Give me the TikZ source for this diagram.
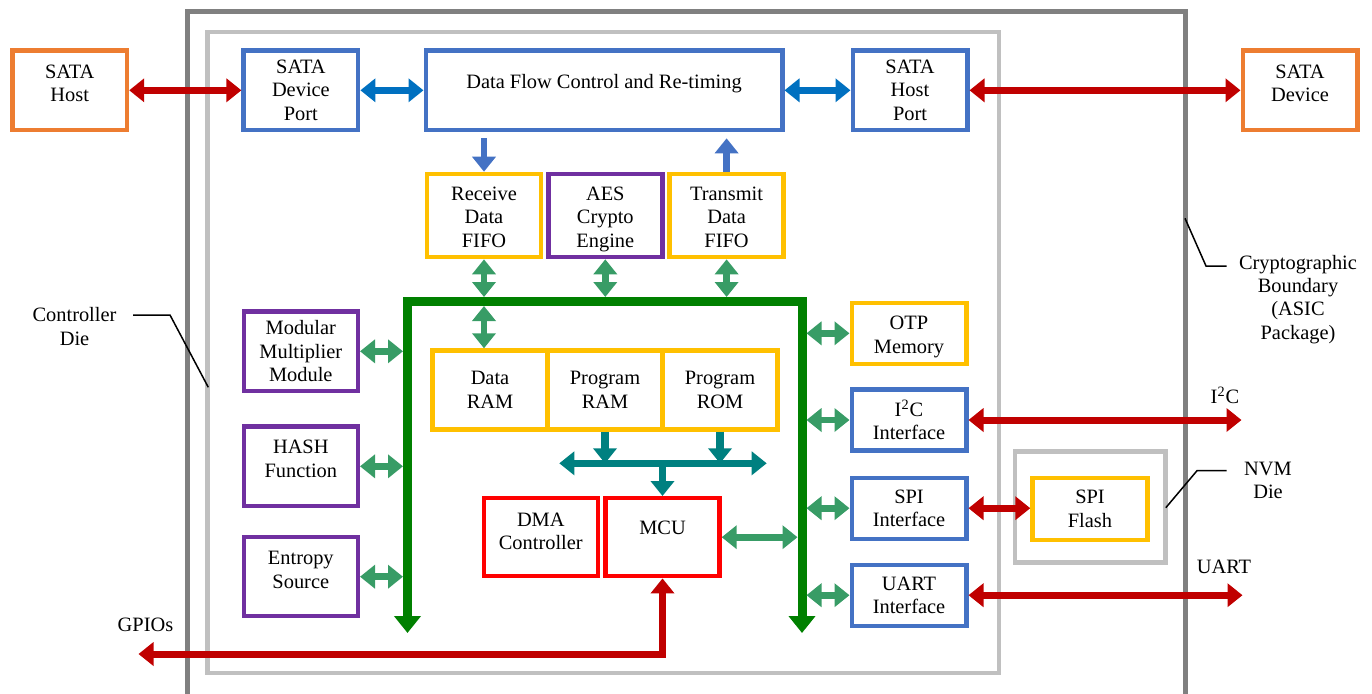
\documentclass[tikz,border=0pt]{standalone}
\usepackage{fontspec}
\setmainfont{Liberation Serif}
\usetikzlibrary{arrows.meta,positioning}

\definecolor{sorange}{HTML}{ED7D31}
\definecolor{sblue}{HTML}{4472C4}
\definecolor{syellow}{HTML}{FFC000}
\definecolor{spurple}{HTML}{7030A0}
\definecolor{sred}{HTML}{FF0000}
\definecolor{linkred}{HTML}{C00000}
\definecolor{linkblue}{HTML}{0070C0}
\definecolor{busgreen}{HTML}{008000}
\definecolor{tapgreen}{HTML}{389C66}
\definecolor{memteal}{HTML}{008080}
\definecolor{pkggray}{HTML}{808080}
\definecolor{diegray}{HTML}{C0C0C0}

% text set a bit above (or below) the middle of its box
\newcommand{\liftbox}[2]{\raisebox{0pt}[\height][\dimexpr\depth+#1\relax]{\begin{tabular}{@{}c@{}}#2\end{tabular}}}

\tikzset{
  every node/.style={font=\fontsize{10.2}{11.7}\selectfont},
  blk/.style={draw, line width=2.2pt, fill=white, align=center, inner sep=1pt,
    minimum width=57.3pt, minimum height=39.8pt},
  link/.style={draw=linkred, line width=3.5pt, <->},
  bflow/.style={draw=linkblue, line width=3.2pt, <->},
  bdown/.style={draw=sblue, line width=3.4pt, ->},
  tap/.style={draw=tapgreen, line width=3.3pt, <->},
  mflow/.style={draw=memteal, line width=3.6pt},
  bus/.style={draw=busgreen, line width=4.5pt,
    {Triangle[length=8.5pt,width=13pt]}-{Triangle[length=8.5pt,width=13pt]}},
  lead/.style={draw=black, line width=0.75pt},
}

\begin{document}
\begin{tikzpicture}[x=0.5pt, y=-0.5pt, >={Triangle[length=7.5pt,width=11.5pt]}]
  \useasboundingbox (0,0) rectangle (1372,693);

  % package and die outlines
  \draw[pkggray, line width=2.3pt] (187.5,695) -- (187.5,11.7) -- (1185.5,11.7) -- (1185.5,695);
  \draw[diegray, line width=2.3pt] (207.5,32) rectangle (999,673);

  % top row
  \node[blk, draw=sorange] (shost) at (69.7,90.3) {\liftbox{5pt}{SATA\\Host}};
  \node[blk, draw=sblue] (sdp) at (300.9,90.3) {SATA\\Device\\Port};
  \node[blk, draw=sblue, minimum width=178.3pt] (dfc) at (604,90.3) {\liftbox{6.6pt}{Data Flow Control and Re-timing}};
  \node[blk, draw=sblue] (shp) at (910,90.3) {SATA\\Host\\Port};
  \node[blk, draw=sorange] (sdev) at (1300,90.3) {\liftbox{5pt}{SATA\\Device}};

  % fifo row
  \node[blk, draw=syellow, minimum width=57pt, minimum height=41.6pt] (rxf) at (484,215.5) {\liftbox{-3.5pt}{Receive\\Data\\FIFO}};
  \node[blk, draw=spurple, minimum width=57pt, minimum height=41.6pt] (aes) at (605.3,215.5) {\liftbox{-3.5pt}{AES\\Crypto\\Engine}};
  \node[blk, draw=syellow, minimum width=57pt, minimum height=41.6pt] (txf) at (726.6,215.5) {\liftbox{-3.5pt}{Transmit\\Data\\FIFO}};

  % memories
  \node[blk, draw=syellow, minimum width=57.5pt, minimum height=39.5pt] (dram) at (490,390) {Data\\RAM};
  \node[blk, draw=syellow, minimum width=57.5pt, minimum height=39.5pt] (pram) at (605,390) {Program\\RAM};
  \node[blk, draw=syellow, minimum width=57.5pt, minimum height=39.5pt] (prom) at (720,390) {Program\\ROM};

  % crypto blocks
  \node[blk, draw=spurple, minimum width=57pt] (mmm) at (300.8,351.3) {Modular\\Multiplier\\Module};
  \node[blk, draw=spurple, minimum width=57pt] (hash) at (300.8,466.3) {\liftbox{5.5pt}{HASH\\Function}};
  \node[blk, draw=spurple, minimum width=57pt, minimum height=39.5pt] (ent) at (300.8,576.7) {\liftbox{4.7pt}{Entropy\\Source}};

  % processor
  \node[blk, draw=sred, minimum width=57pt, minimum height=39pt] (dma) at (540.8,537.2) {\liftbox{3.9pt}{DMA\\Controller}};
  \node[blk, draw=sred, minimum width=57pt, minimum height=39pt] (mcu) at (662.5,537.2) {\liftbox{6.9pt}{MCU}};

  % peripherals
  \node[blk, draw=syellow, minimum height=30.5pt] (otp) at (909,333.3) {\liftbox{-3.4pt}{OTP\\Memory}};
  \node[blk, draw=sblue, minimum height=30.5pt] (i2c) at (909,420) {I\textsuperscript{2}C\\Interface};
  \node[blk, draw=sblue, minimum height=30.5pt] (spi) at (909,508.2) {SPI\\Interface};
  \node[blk, draw=sblue, minimum height=30.5pt] (uart) at (909,595.2) {UART\\Interface};

  % nvm die
  \node[draw=diegray, line width=2.2pt, minimum width=75.2pt, minimum height=55.6pt] (nvm) at (1090.3,507) {};
  \node[blk, draw=syellow, minimum width=57.5pt, minimum height=31pt] (flash) at (1090,509) {SPI\\Flash};

  % bus
  \coordinate (bl) at (407.5,633);
  \coordinate (tl) at (407.5,301.5);
  \coordinate (tr) at (802,301.5);
  \coordinate (br) at (802,633);
  \coordinate (lw) at (403,0);
  \coordinate (ri) at (797.5,0);
  \coordinate (ro) at (806.5,0);
  \coordinate (tt) at (0,297);
  \coordinate (tb) at (0,306);
  \draw[bus] (bl) -- (tl) -- (tr) -- (br);

  \foreach \n in {rxf,aes,txf}
    \draw[tap] (\n.south) -- (\n.south |- tt);
  \draw[tap] (rxf.south |- tb) -- (rxf.south |- dram.north);
  \foreach \n in {mmm,hash,ent}
    \draw[tap] (\n.east) -- (\n.east -| lw);
  \foreach \n in {otp,i2c,spi,uart}
    \draw[tap] (\n.west -| ro) -- (\n.west);
  \draw[tap] (mcu.east) -- (mcu.east -| ri);

  % data path
  \coordinate (dfcb) at ([yshift=-3pt]dfc.south);
  \draw[bdown] (rxf.north |- dfcb) -- (rxf.north);
  \draw[bdown] (txf.north) -- (txf.north |- dfcb);
  \draw[bflow] (sdp.east) -- (dfc.west);
  \draw[bflow] (dfc.east) -- (shp.west);

  % memory to mcu
  \coordinate (tbl) at (559.3,463.3);
  \coordinate (tbr) at (766.7,463.3);
  \draw[mflow, <->] (tbl) -- (tbr);
  \draw[mflow, ->] (pram.south) -- (pram.south |- tbl);
  \draw[mflow, ->] (prom.south) -- (prom.south |- tbl);
  \draw[mflow, ->] (mcu.north |- tbl) -- (mcu.north);

  % external links
  \coordinate (i2cend) at (1241.5,419.5);
  \coordinate (uartend) at (1242.5,595.2);
  \coordinate (gpioend) at (138.5,654);
  \draw[link] (shost.east) -- (sdp.west);
  \draw[link] (shp.east) -- (sdev.west);
  \draw[link] (i2c.east) -- (i2c.east -| i2cend);
  \draw[link] (spi.east) -- (spi.east -| flash.west);
  \draw[link] (uart.east) -- (uart.east -| uartend);
  \draw[link] (gpioend) -- (gpioend -| mcu.south) -- (mcu.south);

  % labels
  \node[align=center] (ctrl) at (74.5,326.5) {Controller\\Die};
  \node (gpio) at (145.5,625) {GPIOs};
  \node[align=center] (pkg) at (1298,299.3) {Cryptographic\\Boundary\\(ASIC\\Package)};
  \node[align=center] (nvmlbl) at (1268,480.3) {NVM\\Die};
  \node (i2clbl) at (1225,395) {I\textsuperscript{2}C};
  \node (uartlbl) at (1224,567.3) {UART};

  \coordinate (ctrlA) at (133,315);
  \coordinate (ctrlB) at (170,315);
  \coordinate (ctrlC) at (208.3,387.3);
  \draw[lead] (ctrlA) -- (ctrlB) -- (ctrlC);
  \coordinate (pkgA) at (1185,218.3);
  \coordinate (pkgB) at (1206,266);
  \coordinate (pkgC) at (1226.7,266);
  \draw[lead] (pkgA) -- (pkgB) -- (pkgC);
  \coordinate (nvmA) at (1165.8,507.7);
  \coordinate (nvmB) at (1197,470.7);
  \coordinate (nvmC) at (1226.6,470.7);
  \draw[lead] (nvmA) -- (nvmB) -- (nvmC);
\end{tikzpicture}
\end{document}
